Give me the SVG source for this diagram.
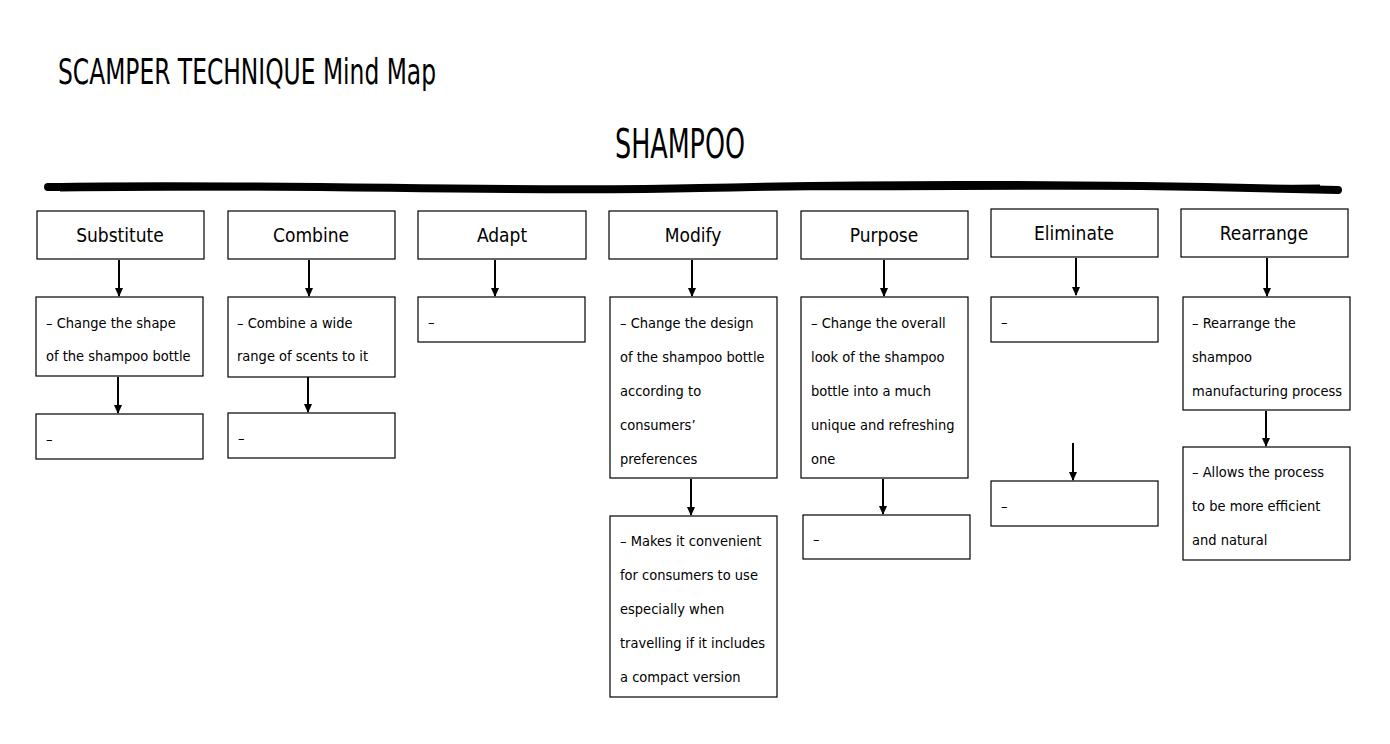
<svg xmlns="http://www.w3.org/2000/svg" width="1390" height="744" viewBox="0 0 1390 744">
<style>
.b{fill:#fff;stroke:#000;stroke-width:1.2}
.h{font-family:"DejaVu Sans Condensed","DejaVu Sans",sans-serif;font-stretch:condensed;font-size:19px;fill:#000;text-anchor:middle}
.t{font-family:"DejaVu Sans Condensed","DejaVu Sans",sans-serif;font-stretch:condensed;font-size:14.5px;fill:#000}
.a{stroke:#000;stroke-width:2;fill:none;marker-end:url(#m)}
</style>
<defs><marker id="m" markerWidth="10" markerHeight="10" refX="8" refY="5" orient="auto" markerUnits="userSpaceOnUse"><path d="M0,1 L9,5 L0,9 Z" fill="#000"/></marker></defs>
<rect width="1390" height="744" fill="#fff"/>
<text x="58" y="84" font-family="DejaVu Sans Condensed, DejaVu Sans, sans-serif" font-stretch="condensed" font-size="36" textLength="378" lengthAdjust="spacingAndGlyphs">SCAMPER TECHNIQUE Mind Map</text>
<text x="615" y="158" font-family="DejaVu Sans Condensed, DejaVu Sans, sans-serif" font-stretch="condensed" font-size="40" textLength="130" lengthAdjust="spacingAndGlyphs">SHAMPOO</text>
<path d="M48,187 C300,183 500,193 700,188 S1100,184 1338,190" stroke="#000" stroke-width="8" fill="none" stroke-linecap="round"/>
<path d="M60,190 C400,186 800,192 1320,186" stroke="#000" stroke-width="3" fill="none"/>
<g id="connectors">
<line class="a" x1="119" y1="260" x2="119" y2="296"/>
<line class="a" x1="309" y1="260" x2="309" y2="296"/>
<line class="a" x1="495" y1="260" x2="495" y2="296"/>
<line class="a" x1="692" y1="260" x2="692" y2="296"/>
<line class="a" x1="884" y1="260" x2="884" y2="296"/>
<line class="a" x1="1076" y1="258" x2="1076" y2="295"/>
<line class="a" x1="1267" y1="258" x2="1267" y2="296"/>
<line class="a" x1="118" y1="377" x2="118" y2="413"/>
<line class="a" x1="308" y1="377" x2="308" y2="412"/>
<line class="a" x1="691" y1="479" x2="691" y2="515"/>
<line class="a" x1="883" y1="479" x2="883" y2="514"/>
<line class="a" x1="1073" y1="443" x2="1073" y2="480"/>
<line class="a" x1="1266" y1="411" x2="1266" y2="446"/>
</g>
<g id="substitute"><rect class="b" x="37" y="211" width="167" height="48"/><text class="h" x="120" y="242">Substitute</text></g>
<g id="combine"><rect class="b" x="228" y="211" width="167" height="48"/><text class="h" x="311" y="242">Combine</text></g>
<g id="adapt"><rect class="b" x="418" y="211" width="168" height="48"/><text class="h" x="502" y="242">Adapt</text></g>
<g id="modify"><rect class="b" x="609" y="211" width="168" height="48"/><text class="h" x="693" y="242">Modify</text></g>
<g id="purpose"><rect class="b" x="801" y="211" width="167" height="48"/><text class="h" x="884" y="242">Purpose</text></g>
<g id="eliminate"><rect class="b" x="991" y="209" width="167" height="48"/><text class="h" x="1074" y="240">Eliminate</text></g>
<g id="rearrange"><rect class="b" x="1181" y="209" width="167" height="48"/><text class="h" x="1264" y="240">Rearrange</text></g>
<g id="sub2"><rect class="b" x="36" y="297" width="167" height="79"/><text class="t" x="46" y="328">– Change the shape</text><text class="t" x="46" y="361">of the shampoo bottle</text></g>
<g id="comb2"><rect class="b" x="228" y="297" width="167" height="80"/><text class="t" x="237" y="328">– Combine a wide</text><text class="t" x="237" y="361">range of scents to it</text></g>
<g id="adapt2"><rect class="b" x="418" y="297" width="167" height="45"/><text class="t" x="428" y="327">–</text></g>
<g id="mod2"><rect class="b" x="610" y="297" width="167" height="181"/><text class="t" x="620" y="328">– Change the design</text><text class="t" x="620" y="362">of the shampoo bottle</text><text class="t" x="620" y="396">according to</text><text class="t" x="620" y="430">consumers’</text><text class="t" x="620" y="464">preferences</text></g>
<g id="purp2"><rect class="b" x="801" y="297" width="167" height="181"/><text class="t" x="811" y="328">– Change the overall</text><text class="t" x="811" y="362">look of the shampoo</text><text class="t" x="811" y="396">bottle into a much</text><text class="t" x="811" y="430">unique and refreshing</text><text class="t" x="811" y="464">one</text></g>
<g id="elim2"><rect class="b" x="991" y="297" width="167" height="45"/><text class="t" x="1001" y="327">–</text></g>
<g id="rear2"><rect class="b" x="1183" y="297" width="167" height="113"/><text class="t" x="1192" y="328">– Rearrange the</text><text class="t" x="1192" y="362">shampoo</text><text class="t" x="1192" y="396">manufacturing process</text></g>
<g id="sub3"><rect class="b" x="36" y="414" width="167" height="45"/><text class="t" x="46" y="444">–</text></g>
<g id="comb3"><rect class="b" x="228" y="413" width="167" height="45"/><text class="t" x="238" y="443">–</text></g>
<g id="mod3"><rect class="b" x="610" y="516" width="167" height="181"/><text class="t" x="620" y="546">– Makes it convenient</text><text class="t" x="620" y="580">for consumers to use</text><text class="t" x="620" y="614">especially when</text><text class="t" x="620" y="648">travelling if it includes</text><text class="t" x="620" y="682">a compact version</text></g>
<g id="purp3"><rect class="b" x="803" y="515" width="167" height="44"/><text class="t" x="813" y="544">–</text></g>
<g id="elim3"><rect class="b" x="991" y="481" width="167" height="45"/><text class="t" x="1001" y="511">–</text></g>
<g id="rear3"><rect class="b" x="1183" y="447" width="167" height="113"/><text class="t" x="1192" y="477">– Allows the process</text><text class="t" x="1192" y="511">to be more efficient</text><text class="t" x="1192" y="545">and natural</text></g>
</svg>
